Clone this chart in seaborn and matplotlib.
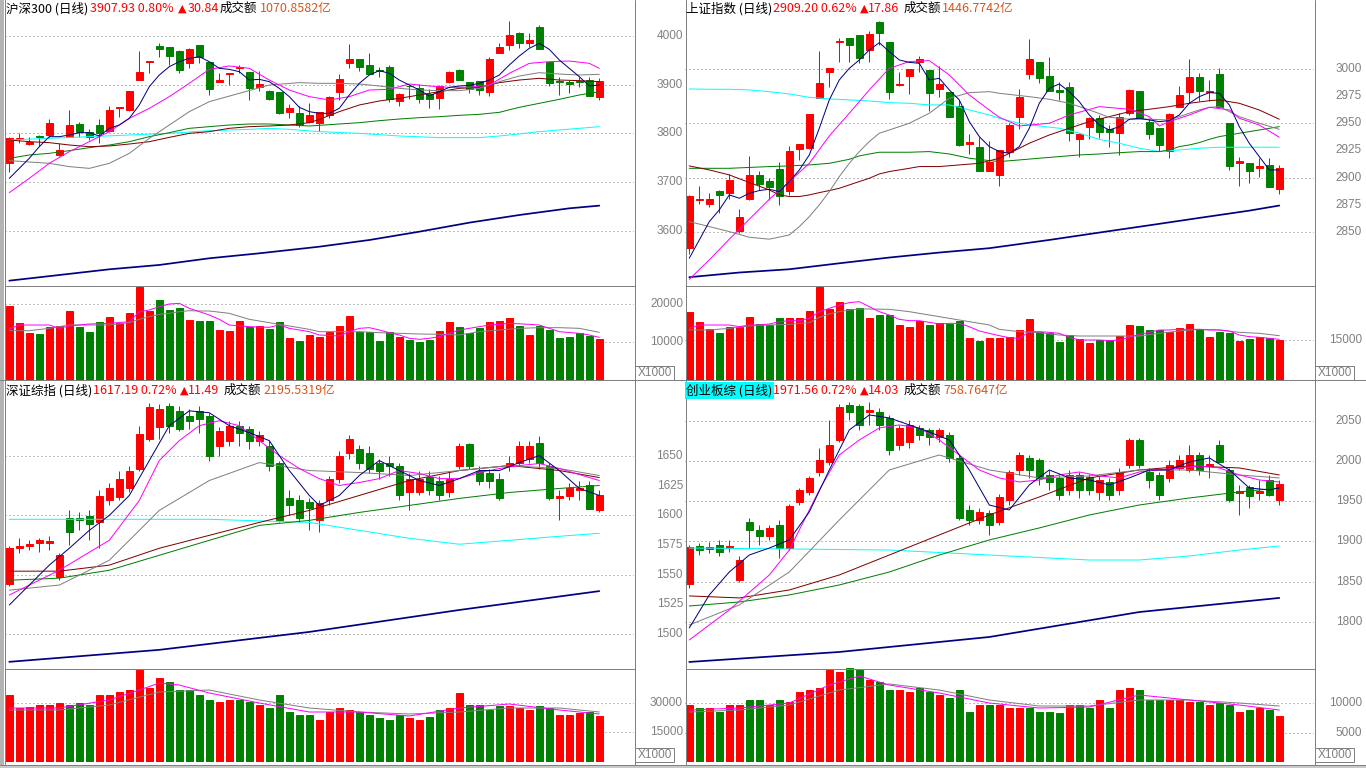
import numpy as np
import matplotlib
matplotlib.use("Agg")
import matplotlib.pyplot as plt
import matplotlib.transforms as mtransforms
from matplotlib.lines import Line2D
from matplotlib.patches import Rectangle
import seaborn as sns

W, H = 1366, 768

# ---------------- 沪深300 ----------------
hs300_open = [3738.8, 3788.7, 3778.4, 3794.2, 3796.9, 3755.9, 3793.5, 3819.5, 3803.8, 3817.4,
              3805.8, 3852.3, 3848.2, 3909.7, 3946.0, 3980.2, 3976.7, 3969.2, 3945.3, 3981.5,
              3947.3, 3904.9, 3922.0, 3933.7, 3926.8, 3896.1, 3887.9, 3884.5, 3844.8, 3841.4,
              3822.9, 3822.2, 3837.9, 3885.8, 3945.3, 3952.8, 3940.5, 3929.6, 3937.1, 3867.4,
              3898.1, 3892.6, 3880.3, 3873.5, 3906.3, 3930.3, 3906.3, 3908.4, 3885.8, 3965.8,
              3981.5, 4006.8, 3986.3, 4019.1, 3947.3, 3907.0, 3906.3, 3907.0, 3909.7, 3875.6]
hs300_high = [3792.1, 3800.3, 3792.1, 3796.9, 3829.7, 3779.8, 3848.2, 3824.3, 3808.5, 3829.7,
              3856.4, 3855.0, 3887.9, 3969.2, 3948.0, 3985.0, 3976.7, 3971.3, 3974.7, 3981.5,
              3947.3, 3923.4, 3924.1, 3940.5, 3926.8, 3928.2, 3889.2, 3885.8, 3859.8, 3856.4,
              3861.9, 3844.8, 3876.9, 3922.0, 3983.6, 3952.8, 3965.8, 3935.7, 3940.5, 3883.8,
              3899.5, 3901.5, 3890.6, 3899.5, 3928.9, 3932.3, 3906.3, 3908.4, 3956.2, 3985.0,
              4030.8, 4008.2, 4005.5, 4022.6, 3947.3, 3915.2, 3909.7, 3915.2, 3915.2, 3913.2]
hs300_low = [3721.7, 3779.8, 3776.4, 3774.4, 3793.5, 3753.9, 3792.1, 3793.5, 3786.7, 3779.8,
             3803.8, 3834.5, 3846.8, 3909.7, 3923.4, 3957.6, 3940.5, 3924.8, 3935.0, 3943.9,
             3879.0, 3904.9, 3899.5, 3923.4, 3868.7, 3887.9, 3868.7, 3840.0, 3831.1, 3814.0,
             3820.9, 3805.8, 3831.1, 3868.7, 3935.0, 3928.9, 3922.0, 3915.2, 3865.3, 3856.4,
             3870.8, 3863.3, 3853.0, 3850.3, 3902.9, 3909.7, 3883.8, 3879.0, 3876.9, 3965.8,
             3971.3, 3974.7, 3978.1, 3972.6, 3897.4, 3879.0, 3883.8, 3894.7, 3876.9, 3868.7]
hs300_close = [3790.1, 3791.5, 3783.2, 3792.8, 3820.9, 3766.2, 3817.4, 3803.8, 3793.5, 3800.3,
               3848.2, 3854.4, 3887.2, 3926.8, 3948.0, 3973.3, 3959.0, 3930.3, 3972.6, 3957.6,
               3891.3, 3909.7, 3923.4, 3935.7, 3892.6, 3901.5, 3870.8, 3841.4, 3853.0, 3817.4,
               3837.9, 3843.4, 3874.2, 3911.8, 3952.8, 3937.1, 3922.0, 3928.2, 3870.1, 3881.0,
               3896.7, 3870.8, 3870.8, 3897.4, 3926.8, 3909.7, 3890.6, 3889.2, 3952.8, 3978.1,
               4002.1, 3986.3, 3991.8, 3973.3, 3904.3, 3905.6, 3900.9, 3905.6, 3876.9, 3907.9]
hs300_vol = [19562, 15088, 12456, 12105, 14035, 14211, 18158, 14035, 12719, 15351,
             16667, 14912, 17719, 24561, 18246, 21053, 18421, 19035, 15790, 15614,
             15614, 13158, 12895, 15614, 14035, 14298, 13421, 15263, 11140, 10351,
             11842, 11404, 12719, 14211, 16842, 12719, 12719, 10351, 12544, 11404,
             10526, 10088, 10526, 12895, 15351, 13860, 12456, 13597, 15351, 15614,
             16404, 14211, 11842, 14211, 13158, 11140, 11404, 12281, 11667, 10790]

hs300_ma5 = [3708.0, 3728.5, 3749.1, 3773.0, 3793.5, 3793.5, 3796.9, 3801.7, 3801.7, 3794.9,
             3810.6, 3817.4, 3831.1, 3858.5, 3896.1, 3920.0, 3937.1, 3947.3, 3954.2, 3957.6,
             3947.3, 3933.7, 3931.6, 3926.8, 3909.7, 3911.1, 3906.3, 3892.6, 3875.6, 3853.7,
             3844.8, 3841.4, 3841.4, 3851.6, 3879.0, 3902.9, 3920.0, 3928.9, 3923.4, 3909.7,
             3899.5, 3889.2, 3876.9, 3885.8, 3894.7, 3897.4, 3898.8, 3902.9, 3909.7, 3920.0,
             3940.5, 3959.0, 3974.7, 3985.0, 3972.6, 3950.8, 3933.7, 3916.6, 3897.4, 3899.5]
hs300_ma10_day = list(range(0, 60, 2)) + [59]
hs300_ma10 = [3678.6, 3708.0, 3738.8, 3762.7, 3783.2, 3803.8, 3831.1, 3851.6, 3875.6, 3903.0,
              3931.6, 3938.5, 3933.7, 3909.7, 3889.2, 3875.6, 3868.7, 3875.6, 3889.2, 3890.6,
              3901.5, 3897.4, 3894.7, 3894.7, 3899.5, 3923.4, 3943.9, 3947.3, 3948.7, 3943.9, 3933.7]
hs300_ma20_day = [0, 4, 6, 8, 10, 12, 14, 16, 18, 20, 23, 26, 29, 31, 33, 35, 37, 39, 41, 43,
                  45, 47, 49, 51, 53, 55, 57, 59]
hs300_ma20 = [3744.3, 3738.8, 3732.0, 3728.5, 3738.8, 3759.3, 3790.1, 3817.4, 3844.8, 3865.3,
              3882.4, 3899.5, 3904.3, 3902.9, 3902.9, 3901.5, 3897.4, 3892.6, 3889.2, 3887.9,
              3887.9, 3892.6, 3906.3, 3917.9, 3924.8, 3922.0, 3920.0, 3921.4]
hs300_ma30_day = list(range(0, 31, 2)) + list(range(31, 60, 2))
hs300_ma30 = [3786.7, 3783.2, 3781.2, 3776.4, 3773.0, 3774.4, 3778.4, 3783.2, 3792.1, 3800.3,
              3803.8, 3810.6, 3814.0, 3815.4, 3817.4, 3822.2, 3829.0, 3844.8, 3858.5, 3866.7,
              3872.1, 3879.0, 3885.8, 3892.6, 3894.7, 3904.3, 3909.7, 3913.2, 3909.7, 3908.4, 3906.3]
hs300_ma60_day = list(range(0, 31, 2)) + list(range(33, 60, 2))
hs300_ma60 = [3749.1, 3755.9, 3759.3, 3764.8, 3770.9, 3776.4, 3783.2, 3793.5, 3801.7, 3810.6,
              3814.0, 3817.4, 3819.5, 3819.5, 3817.4, 3815.4, 3819.5, 3822.2, 3826.3, 3829.7,
              3832.5, 3834.5, 3837.3, 3839.3, 3843.4, 3853.7, 3861.9, 3870.1, 3879.0, 3885.8]
hs300_ma120_day = [0, 4, 8, 12, 16, 20, 24, 26, 28, 31, 35, 39, 43, 47, 49, 51, 53, 55, 57, 59]
hs300_ma120 = [3786.7, 3790.1, 3793.5, 3796.9, 3800.3, 3805.8, 3808.5, 3810.6, 3808.5, 3803.8,
               3800.3, 3794.9, 3791.5, 3791.5, 3794.9, 3799.0, 3803.8, 3807.2, 3810.6, 3814.0]
hs300_ma250_day = [0, 5, 10, 15, 20, 25, 31, 36, 41, 46, 51, 56, 59]
hs300_ma250 = [3498.1, 3509.7, 3521.4, 3530.3, 3544.0, 3554.2, 3567.8, 3581.5, 3598.6, 3617.1,
               3632.8, 3646.5, 3652.0]
hs300_vma5_day = [0, 1, 4, 5, 6, 8, 10, 12, 13, 14, 15, 16, 17, 18, 19, 20, 21, 22, 24, 26,
                  27, 28, 29, 30, 31, 33, 34, 35, 36, 37, 38, 39, 40, 41, 42, 43, 44, 45, 46, 47,
                  48, 49, 50, 52, 53, 54, 55, 57, 58, 59]
hs300_vma5 = [13421, 14474, 14474, 13597, 14211, 14737, 14912, 15351, 17983, 18421,
              19298, 20000, 20176, 18860, 17983, 17105, 15965, 14474, 14035, 13860,
              14474, 13597, 13158, 12719, 11842, 11579, 12719, 13597, 13772, 13158,
              12456, 11842, 10965, 10702, 10965, 11404, 12281, 13158, 13597, 14035,
              14474, 14649, 14912, 14649, 14474, 13597, 12719, 12281, 11842, 11228]
hs300_vma10_day = [0, 2, 4, 6, 8, 10, 12, 13, 14, 15, 16, 17, 18, 19, 20, 22, 24, 26, 28, 30,
                   31, 33, 35, 37, 39, 41, 43, 45, 47, 49, 51, 53, 55, 57, 59]
hs300_vma10 = [12982, 12982, 13597, 14474, 14474, 14474, 15088, 15965, 16667, 17281,
               17544, 17983, 18246, 18158, 18158, 17544, 15965, 15088, 14211, 13333,
               12719, 12719, 12719, 12456, 12281, 12105, 12018, 11842, 12719, 13158,
               13597, 13772, 13772, 13597, 12544]

# ---------------- 上证指数 ----------------
sh_open = [2834.9, 2879.4, 2875.7, 2888.0, 2886.1, 2851.1, 2880.3, 2902.4, 2897.2, 2907.6,
           2888.0, 2926.3, 2927.6, 2973.6, 2997.5, 3025.2, 3028.2, 3031.3, 3017.5, 3043.0,
           3024.6, 2985.3, 2993.9, 3006.1, 2999.1, 2981.3, 2979.1, 2965.9, 2930.9, 2928.5,
           2906.4, 2902.4, 2923.9, 2956.1, 2995.4, 3006.8, 2993.6, 2980.7, 2983.1, 2935.2,
           2946.9, 2954.6, 2944.4, 2941.4, 2959.8, 2979.8, 2950.9, 2946.0, 2924.5, 2965.3,
           2979.1, 2992.3, 2978.8, 2995.4, 2950.6, 2913.7, 2913.7, 2908.5, 2911.6, 2889.5]
sh_high = [2884.0, 2892.3, 2886.1, 2888.6, 2903.3, 2870.8, 2919.9, 2906.4, 2899.3, 2914.7,
           2929.1, 2930.9, 2958.6, 3016.6, 3000.6, 3028.2, 3028.2, 3031.3, 3035.0, 3044.2,
           3024.6, 2997.5, 3000.0, 3012.0, 2999.1, 3003.1, 2979.1, 2971.5, 2940.2, 2937.7,
           2933.7, 2925.4, 2950.6, 2981.3, 3027.3, 3006.8, 3010.7, 2987.7, 2988.3, 2941.4,
           2956.1, 2957.6, 2948.4, 2959.2, 2981.3, 2979.8, 2954.6, 2946.0, 2959.8, 2984.4,
           3008.9, 2996.6, 2989.9, 3000.6, 2950.6, 2919.3, 2913.7, 2917.8, 2917.8, 2911.6]
sh_low = [2829.7, 2875.7, 2873.2, 2867.7, 2880.0, 2849.3, 2879.4, 2888.6, 2879.4, 2874.8,
          2884.0, 2916.2, 2926.0, 2973.6, 2983.1, 3006.8, 3006.8, 3005.8, 3006.8, 3022.1,
          2972.1, 2984.3, 2977.0, 2997.5, 2961.6, 2974.5, 2956.1, 2929.1, 2921.7, 2906.4,
          2906.4, 2892.6, 2919.3, 2944.4, 2990.8, 2987.4, 2980.1, 2971.5, 2934.0, 2918.7,
          2935.2, 2936.2, 2927.9, 2920.8, 2957.6, 2954.6, 2935.5, 2924.8, 2918.4, 2965.3,
          2969.0, 2970.8, 2970.8, 2965.3, 2907.0, 2892.6, 2894.7, 2900.3, 2891.7, 2884.9]
sh_close = [2883.1, 2880.3, 2880.3, 2884.0, 2897.8, 2863.4, 2902.4, 2894.1, 2891.7, 2883.1,
            2924.5, 2930.9, 2958.6, 2987.1, 3000.6, 3026.1, 3022.1, 3010.4, 3031.9, 3032.9,
            2979.1, 2986.2, 3000.0, 3008.9, 2978.2, 2986.2, 2956.1, 2930.0, 2933.1, 2906.4,
            2914.7, 2925.4, 2948.4, 2974.5, 3008.9, 2992.0, 2980.1, 2978.8, 2941.4, 2940.2,
            2955.2, 2942.3, 2942.3, 2956.1, 2980.7, 2954.6, 2940.2, 2930.0, 2958.6, 2976.1,
            2992.3, 2980.1, 2980.1, 2965.3, 2911.0, 2915.3, 2906.4, 2910.7, 2891.7, 2909.2]
sh_vol = [25625, 21875, 19000, 17750, 20000, 19750, 23750, 21000, 20625, 23375,
          23375, 23375, 26000, 35000, 26625, 29375, 26500, 27125, 23375, 24375,
          24375, 20625, 20000, 22250, 20625, 21250, 20875, 22125, 15875, 14750,
          15875, 15875, 16000, 18750, 22875, 18125, 17500, 14375, 16875, 15250,
          13750, 15000, 15000, 16500, 20625, 20250, 18750, 18750, 18125, 19375,
          21000, 18750, 16250, 18125, 17500, 14750, 15375, 16000, 15625, 15000]

sh_ma5 = [2825.7, 2842.5, 2859.4, 2870.2, 2884.0, 2880.9, 2885.5, 2888.0, 2889.2, 2887.0,
          2896.3, 2907.0, 2920.8, 2945.4, 2971.5, 2989.9, 3000.6, 3008.3, 3017.5, 3024.2,
          3016.0, 3008.3, 3006.1, 3005.2, 2989.9, 2991.4, 2980.7, 2971.5, 2951.5, 2937.7,
          2928.5, 2923.9, 2922.3, 2928.5, 2945.4, 2968.4, 2982.2, 2986.2, 2979.1, 2969.9,
          2957.6, 2948.4, 2943.8, 2946.9, 2953.7, 2954.6, 2953.0, 2951.5, 2952.4, 2957.6,
          2968.4, 2974.5, 2978.2, 2977.6, 2966.9, 2946.9, 2931.5, 2919.3, 2907.0, 2907.0]
sh_ma10_day = list(range(0, 31, 2)) + [31, 33, 36, 38, 41, 44, 46, 47, 48, 50, 52, 54, 55, 57, 59]
sh_ma10 = [2806.3, 2824.1, 2843.2, 2861.6, 2880.0, 2896.3, 2913.1, 2938.3, 2959.2, 2980.7,
           3000.6, 3006.8, 3007.7, 2994.5, 2976.1, 2962.2, 2955.5, 2947.5, 2950.0, 2957.6,
           2965.3, 2962.9, 2956.1, 2947.5, 2951.5, 2957.6, 2964.7, 2962.3, 2954.6, 2948.4, 2937.1]
sh_ma20_day = [0, 2, 4, 6, 8, 10, 11, 12, 13, 14, 15, 16, 17, 18, 19, 20, 22, 24, 26, 28,
               30, 31, 34, 36, 38, 40, 42, 44, 46, 48, 49, 50, 51, 52, 53, 54, 55, 57, 59]
sh_ma20 = [2859.4, 2854.8, 2850.2, 2845.0, 2843.2, 2847.1, 2854.8, 2864.0, 2874.8, 2887.0,
           2900.9, 2913.1, 2923.9, 2933.1, 2940.8, 2943.8, 2950.0, 2959.2, 2973.0, 2978.2,
           2979.1, 2977.6, 2974.5, 2972.1, 2968.4, 2962.3, 2955.5, 2953.7, 2953.7, 2953.0,
           2956.1, 2959.2, 2962.3, 2964.7, 2965.3, 2960.7, 2956.1, 2950.0, 2944.4]
sh_ma30_day = [0, 2, 4, 6, 8, 9, 10, 11, 12, 13, 14, 15, 16, 17, 18, 19, 20, 21, 22, 23,
               25, 27, 29, 31, 32, 34, 36, 38, 40, 42, 44, 46, 48, 50, 52, 53, 54, 55, 57, 59]
sh_ma30 = [2910.7, 2907.0, 2902.4, 2895.4, 2888.6, 2884.0, 2882.5, 2882.5, 2884.0, 2886.1,
           2888.0, 2890.1, 2893.2, 2896.3, 2899.3, 2903.3, 2905.5, 2907.0, 2908.5, 2910.1,
           2910.1, 2911.6, 2913.1, 2917.8, 2922.3, 2931.6, 2939.2, 2945.4, 2951.5, 2956.1,
           2960.7, 2962.9, 2965.3, 2968.4, 2970.8, 2971.5, 2969.9, 2968.4, 2962.2, 2953.7]
sh_ma60_day = [0, 4, 8, 10, 12, 14, 16, 17, 18, 19, 20, 22, 24, 26, 28, 30, 31, 33, 35, 37,
               39, 41, 43, 45, 47, 48, 49, 50, 51, 52, 53, 54, 55, 57, 59]
sh_ma60 = [2908.5, 2908.5, 2910.1, 2910.7, 2911.6, 2913.1, 2916.8, 2919.9, 2921.7, 2923.3,
           2923.3, 2923.3, 2923.9, 2921.7, 2917.8, 2915.6, 2914.7, 2916.2, 2917.8, 2919.3,
           2920.8, 2921.7, 2922.9, 2923.9, 2923.9, 2925.4, 2928.5, 2930.0, 2932.2, 2935.2,
           2937.7, 2939.2, 2940.8, 2943.8, 2946.9]
sh_ma120_day = list(range(0, 27, 2)) + [27, 28, 30, 31] + list(range(33, 56, 2)) + [59]
sh_ma120 = [2981.6, 2981.3, 2981.3, 2980.7, 2979.1, 2977.0, 2973.9, 2972.4, 2971.5, 2970.5,
            2969.0, 2968.4, 2966.9, 2966.9, 2964.7, 2962.3, 2957.6, 2954.6, 2949.9, 2947.5,
            2945.4, 2940.8, 2935.2, 2931.6, 2927.0, 2923.9, 2925.4, 2927.0, 2927.9, 2927.9, 2927.9]
sh_ma250_day = [0, 5, 10, 15, 20, 25, 30, 36, 41, 46, 51, 56, 59]
sh_ma250 = [2808.2, 2812.5, 2815.5, 2821.0, 2826.3, 2830.9, 2834.9, 2842.5, 2849.3, 2856.0,
            2862.8, 2869.5, 2874.2]
sh_vma5_day = [0, 1] + list(range(4, 60))
sh_vma5 = [19375, 20625, 20625, 20000, 20625, 20625, 21000, 21875, 22250, 22250,
           23125, 25625, 26875, 28125, 29000, 29375, 27500, 25625, 24375, 22750,
           22250, 22250, 21625, 21000, 21250, 21250, 20000, 18375, 17500, 16625,
           15875, 15625, 18125, 18125, 17875, 17500, 16000, 15000, 15000, 15000,
           14750, 15000, 16000, 17125, 17875, 18750, 18750, 19000, 19000, 19000,
           18750, 18750, 18375, 16875, 16250, 16000, 15625, 15250]
sh_vma10_day = [0, 2, 4, 6, 8, 10, 12, 13, 14, 15, 16, 17, 18, 20, 22, 24, 26, 28, 30, 31,
                33, 35, 37, 39, 41, 43, 45, 47, 49, 51, 53, 55, 57, 59]
sh_vma10 = [18750, 18750, 19375, 20250, 20625, 20875, 21500, 23500, 24750, 25625,
            26250, 26625, 26625, 26500, 25625, 24375, 23125, 21875, 20625, 19000,
            18125, 17750, 16875, 16500, 16500, 16500, 16500, 17500, 18375, 19000,
            18750, 17875, 17500, 16625]

# ---------------- 深证综指 ----------------
sz_open = [1542.0, 1572.2, 1573.9, 1576.4, 1576.4, 1547.9, 1597.4, 1597.4, 1599.1, 1594.0,
           1612.5, 1615.0, 1622.6, 1639.4, 1664.5, 1674.6, 1692.2, 1688.0, 1683.9, 1688.0,
           1683.9, 1658.7, 1662.9, 1675.5, 1672.9, 1662.9, 1658.7, 1644.4, 1614.2, 1612.5,
           1610.8, 1595.7, 1612.5, 1630.9, 1652.8, 1656.2, 1652.8, 1644.4, 1644.4, 1641.9,
           1619.2, 1619.2, 1632.6, 1629.3, 1619.2, 1641.9, 1660.4, 1637.7, 1636.0, 1630.9,
           1641.9, 1644.4, 1647.8, 1661.2, 1641.9, 1614.2, 1615.9, 1620.9, 1625.1, 1604.1]
sz_high = [1573.9, 1580.6, 1578.9, 1580.6, 1582.3, 1568.0, 1604.1, 1602.4, 1604.1, 1620.9,
           1627.6, 1637.7, 1641.9, 1675.5, 1694.8, 1693.9, 1694.8, 1692.2, 1689.7, 1692.2,
           1686.4, 1674.6, 1679.7, 1679.7, 1675.5, 1671.3, 1662.9, 1646.1, 1620.9, 1616.7,
           1614.2, 1612.5, 1633.5, 1654.5, 1667.9, 1659.5, 1658.7, 1647.8, 1650.3, 1644.4,
           1636.0, 1637.7, 1637.7, 1633.5, 1637.7, 1661.2, 1661.2, 1641.9, 1639.4, 1636.0,
           1650.3, 1662.9, 1662.9, 1667.1, 1644.4, 1620.9, 1627.6, 1629.3, 1629.3, 1620.9]
sz_low = [1540.3, 1568.0, 1570.5, 1568.8, 1570.5, 1545.3, 1574.7, 1587.3, 1578.9, 1572.2,
          1608.3, 1612.5, 1619.2, 1637.7, 1662.9, 1664.5, 1669.6, 1671.3, 1672.9, 1669.6,
          1646.1, 1650.3, 1658.7, 1658.7, 1656.2, 1658.7, 1637.7, 1594.0, 1599.9, 1594.0,
          1587.3, 1585.6, 1608.3, 1627.6, 1647.8, 1639.4, 1636.0, 1630.9, 1633.5, 1612.5,
          1604.1, 1616.7, 1616.7, 1612.5, 1615.0, 1639.4, 1639.4, 1625.1, 1622.6, 1612.5,
          1637.7, 1641.9, 1644.4, 1639.4, 1612.5, 1595.7, 1612.5, 1612.5, 1605.7, 1602.4]
sz_close = [1572.2, 1573.9, 1575.6, 1578.9, 1578.1, 1566.3, 1585.6, 1595.7, 1592.4, 1615.9,
            1622.6, 1630.9, 1637.7, 1668.7, 1691.4, 1689.7, 1675.5, 1672.9, 1679.7, 1681.3,
            1650.3, 1671.3, 1675.5, 1669.6, 1662.9, 1667.9, 1641.9, 1595.7, 1608.3, 1597.4,
            1605.8, 1610.0, 1630.9, 1650.3, 1664.5, 1644.4, 1639.4, 1637.7, 1641.9, 1616.7,
            1630.9, 1630.9, 1620.9, 1616.7, 1630.9, 1658.7, 1641.9, 1629.3, 1629.3, 1614.2,
            1644.4, 1658.7, 1658.7, 1644.4, 1614.2, 1615.9, 1623.4, 1623.4, 1605.7, 1617.2]
sz_vol = [33956, 27367, 27874, 28888, 28888, 29901, 28888, 29901, 28888, 33956,
          33956, 35476, 36490, 46626, 37503, 42571, 40544, 36490, 36490, 33956,
          31422, 30408, 31422, 31422, 30408, 28888, 27367, 33956, 25340, 23820,
          23820, 21286, 25340, 27367, 26354, 25340, 23820, 22299, 21286, 23820,
          22299, 21286, 22806, 26354, 27367, 34969, 28888, 28888, 26354, 28381,
          28381, 27367, 26354, 28381, 27367, 23820, 23820, 24833, 25340, 23313]

sz_ma5_day = list(range(0, 31, 2)) + list(range(31, 60, 2))
sz_ma5 = [1524.4, 1541.2, 1558.0, 1572.2, 1587.3, 1599.9, 1616.7, 1646.1, 1675.5, 1688.0,
          1686.4, 1675.5, 1669.6, 1662.9, 1637.7, 1616.7, 1608.3, 1616.7, 1633.5, 1646.1,
          1637.7, 1629.3, 1625.1, 1630.9, 1637.7, 1637.7, 1644.4, 1650.3, 1637.7, 1622.6, 1616.7]
sz_ma10_day = [0, 5, 10, 13, 15, 17, 19, 21, 23, 25, 27, 29, 31, 33, 35, 37, 39, 41, 43, 45,
               47, 49, 51, 53, 55, 57, 59]
sz_ma10 = [1532.8, 1553.7, 1578.9, 1612.5, 1646.1, 1662.9, 1675.5, 1679.7, 1675.5, 1662.9,
           1650.3, 1639.4, 1630.9, 1625.1, 1627.6, 1630.9, 1637.7, 1635.2, 1630.9, 1630.9,
           1636.0, 1639.4, 1641.9, 1643.6, 1639.4, 1634.3, 1629.3]
sz_ma_day = [0, 5, 10, 15, 20, 25, 30, 35, 40, 45, 50, 55, 59]
sz_ma20 = [1536.9, 1541.2, 1562.1, 1604.1, 1629.3, 1644.4, 1637.7, 1636.0, 1633.5, 1637.7,
           1641.9, 1639.4, 1633.5]
sz_ma30 = [1552.9, 1552.9, 1558.0, 1572.2, 1583.1, 1594.0, 1604.1, 1616.7, 1629.3, 1637.7,
           1641.9, 1637.7, 1631.8]
sz_ma60 = [1545.3, 1547.0, 1553.7, 1566.3, 1578.9, 1591.5, 1595.7, 1602.4, 1608.3, 1614.2,
           1619.2, 1622.6, 1625.1]
sz_ma120_day = [0, 10, 20, 30, 35, 40, 45, 50, 55, 59]
sz_ma120 = [1596.6, 1596.6, 1596.6, 1594.0, 1587.3, 1580.6, 1575.6, 1578.9, 1582.3, 1584.8]
sz_ma250_day = [0, 15, 30, 45, 59]
sz_ma250 = [1476.5, 1486.6, 1501.7, 1520.2, 1536.1]
sz_vma5_day = [0, 5, 10, 13, 15, 17, 20, 25, 30, 35, 40, 45, 50, 55, 59]
sz_vma5 = [27367, 27367, 31422, 36490, 40037, 39024, 34969, 29901, 25340, 25340,
           23313, 27367, 29394, 26354, 24326]
sz_vma10_day = [0, 5, 10, 15, 20, 25, 30, 35, 40, 45, 50, 55, 59]
sz_vma10 = [26354, 26354, 28888, 35476, 36490, 31422, 27367, 25340, 24326, 25340,
            27367, 27367, 25340]

# ---------------- 创业板综 ----------------
cyb_open = [1847.2, 1894.4, 1890.7, 1895.7, 1891.9, 1852.2, 1924.2, 1914.3, 1906.8, 1920.5,
            1891.9, 1949.1, 1961.5, 1986.3, 1998.7, 2026.0, 2069.5, 2068.3, 2060.8, 2060.8,
            2053.4, 2019.9, 2023.6, 2041.0, 2038.5, 2029.8, 2032.3, 2003.7, 1939.1, 1926.7,
            1935.4, 1924.2, 1951.5, 1988.8, 2003.7, 2001.2, 1982.6, 1978.9, 1964.0, 1982.6,
            1980.1, 1961.5, 1973.9, 1964.0, 1995.0, 2026.0, 1986.3, 1982.6, 1978.9, 1991.3,
            1988.8, 2007.4, 1993.8, 2019.9, 1988.8, 1960.3, 1967.7, 1960.3, 1976.4, 1951.5]
cyb_high = [1895.7, 1898.2, 1899.4, 1901.9, 1901.9, 1882.0, 1929.2, 1920.5, 1920.5, 1926.7,
            1946.6, 1966.5, 1981.4, 2016.1, 2050.9, 2070.8, 2073.3, 2070.8, 2073.3, 2065.8,
            2057.1, 2044.7, 2050.9, 2044.7, 2041.0, 2041.0, 2036.0, 2007.4, 1945.3, 1941.6,
            1939.1, 1959.0, 1988.8, 2011.2, 2007.4, 2003.7, 1988.8, 1982.6, 1988.8, 1986.3,
            1983.8, 1981.4, 1978.9, 1991.3, 2028.6, 2028.6, 1991.3, 1986.3, 2001.2, 2007.4,
            2019.9, 2011.2, 2007.4, 2026.0, 1991.3, 1970.2, 1970.2, 1976.4, 1982.6, 1976.4]
cyb_low = [1842.3, 1883.2, 1885.7, 1882.0, 1887.0, 1849.7, 1891.9, 1895.7, 1901.9, 1879.5,
           1889.5, 1945.3, 1957.8, 1981.4, 1995.0, 2023.6, 2050.9, 2038.5, 2044.7, 2038.5,
           2007.4, 2013.6, 2016.1, 2026.0, 2019.9, 2023.6, 1998.7, 1926.7, 1920.5, 1921.7,
           1908.1, 1920.5, 1945.3, 1982.6, 1978.9, 1970.2, 1964.0, 1951.5, 1957.8, 1954.0,
           1957.8, 1951.5, 1951.5, 1957.8, 1991.3, 1991.3, 1966.5, 1951.5, 1973.9, 1988.8,
           1986.3, 1982.6, 1978.9, 1998.7, 1949.1, 1932.9, 1941.6, 1951.5, 1956.0, 1945.3]
cyb_close = [1893.2, 1889.5, 1893.2, 1887.0, 1894.4, 1877.0, 1914.3, 1906.8, 1916.8, 1891.9,
             1944.1, 1964.0, 1978.9, 2001.2, 2019.9, 2067.0, 2060.8, 2044.7, 2063.3, 2044.7,
             2013.6, 2041.0, 2044.7, 2032.3, 2029.8, 2038.5, 2003.7, 1929.2, 1926.7, 1936.6,
             1920.5, 1955.3, 1986.3, 2007.4, 1988.8, 1978.9, 1973.9, 1957.8, 1982.6, 1964.0,
             1964.0, 1976.4, 1957.8, 1986.3, 2026.0, 1995.0, 1976.4, 1957.8, 1995.0, 2001.2,
             2007.4, 1988.8, 1996.3, 1998.7, 1951.5, 1962.7, 1956.5, 1962.7, 1957.5, 1971.6]
cyb_vol = [9724, 9212, 9212, 8530, 9724, 9724, 10577, 10577, 9724, 10577,
           10236, 11942, 12283, 12624, 15695, 15354, 16036, 15695, 13989, 13648,
           12283, 12283, 11942, 12624, 11942, 11430, 10918, 12283, 8530, 9724,
           9724, 9724, 9212, 9212, 9212, 8530, 8530, 8359, 9724, 9724,
           9212, 10577, 9212, 12283, 12624, 12283, 10577, 10577, 10577, 10577,
           10236, 10236, 9724, 10065, 9724, 8530, 8871, 9212, 8871, 7848]

cyb_ma5_day = list(range(0, 60, 2)) + [59]
cyb_ma5 = [1792.6, 1833.6, 1862.1, 1883.2, 1891.9, 1901.9, 1936.7, 1988.8, 2038.5, 2057.1,
           2053.4, 2044.7, 2036.0, 2026.0, 1988.8, 1945.3, 1939.1, 1970.2, 1988.8, 1978.9,
           1976.4, 1970.2, 1978.9, 1988.8, 1988.8, 1998.7, 2003.7, 1988.8, 1966.5, 1964.0, 1966.5]
cyb_ma10_day = [0, 4, 8, 10, 13, 15, 17, 19, 21, 23, 25, 27, 29, 31, 33, 35, 37, 39, 41, 43,
                45, 47, 49, 51, 53, 55, 57, 59]
cyb_ma10 = [1777.7, 1815.0, 1858.4, 1889.4, 1964.0, 2007.4, 2026.0, 2041.0, 2044.7, 2041.0,
            2026.0, 2007.4, 1988.8, 1978.9, 1973.9, 1976.4, 1982.6, 1986.3, 1981.4, 1978.9,
            1986.3, 1988.8, 1991.3, 1993.8, 1991.3, 1982.6, 1976.4, 1973.9]
cyb_ma_day = [0, 5, 10, 15, 20, 25, 30, 35, 40, 45, 50, 55, 59]
cyb_ma20 = [1796.3, 1821.2, 1862.1, 1926.7, 1988.8, 2007.4, 1988.8, 1978.9, 1981.4, 1988.8,
            1988.8, 1982.6, 1978.9]
cyb_ma30 = [1832.4, 1829.9, 1839.8, 1858.4, 1883.2, 1908.1, 1932.9, 1955.3, 1978.9, 1988.8,
            1993.8, 1991.3, 1982.6]
cyb_ma60 = [1819.9, 1824.9, 1833.6, 1846.0, 1862.1, 1883.2, 1901.9, 1916.8, 1932.9, 1945.3,
            1954.0, 1961.5, 1966.5]
cyb_ma120_day = [0, 10, 20, 30, 40, 45, 50, 55, 59]
cyb_ma120 = [1891.9, 1890.7, 1889.4, 1883.2, 1877.0, 1877.0, 1882.0, 1889.4, 1894.4]
cyb_ma250_day = [0, 15, 30, 45, 59]
cyb_ma250 = [1750.4, 1762.8, 1781.4, 1812.4, 1829.9]
cyb_vma5_day = [0, 5, 10, 14, 17, 20, 25, 30, 35, 40, 45, 50, 55, 59]
cyb_vma5 = [8871, 9212, 10065, 13136, 14672, 13136, 11771, 10065, 9212, 9383,
            11430, 10577, 9724, 8871]
cyb_vma10_day = [0, 5, 10, 15, 20, 25, 30, 35, 40, 45, 50, 55, 59]
cyb_vma10 = [8530, 8871, 9724, 12283, 13307, 12283, 10577, 9554, 9554, 10577,
             10577, 10065, 9554]

RED = "#FF0000"
GREEN = "#008000"
GRAY = "#808080"
ORANGE = "#D8561A"
NAVY = "#000080"
MAGENTA = "#FF00FF"
DARKRED = "#800000"
CYAN = "#00FFFF"
PX = 0.72  # one pixel in points
THICK = 1.25

sns.set_style("white")
plt.rcParams["font.family"] = ["Liberation Sans", "Noto Sans CJK SC", "DejaVu Sans"]

fig = plt.figure(figsize=(W / 100, H / 100), dpi=100)
fig.patch.set_facecolor("white")


def px_axes(x, y, w, h):
    ax = fig.add_axes([x / W, 1 - (y + h) / H, w / W, h / H])
    ax.set_facecolor("none")
    for s in ax.spines.values():
        s.set_visible(False)
    ax.set_xticks([])
    ax.set_yticks([])
    ax.set_xlim(-0.43, 62.47)
    return ax


def fig_line(x0, y0, x1, y1, color=GRAY, lw=PX):
    fig.add_artist(Line2D([x0 / W, x1 / W], [1 - y0 / H, 1 - y1 / H],
                          transform=fig.transFigure, color=color, lw=lw))


def side_labels(ax, vals, off_px):
    trans = mtransforms.blended_transform_factory(ax.transAxes, ax.transData)
    for v in vals:
        ax.text(1 + off_px / 629, v, str(v), transform=trans, ha="right", va="center",
                color=GRAY, fontsize=8.5, clip_on=False)


def dotted(ax, vals):
    ax.hlines(vals, -0.43, 62.47, colors=GRAY, linestyles=(0, (1, 3)), lw=PX, zorder=1)


def ma_line(ax, days, vals, color, lw=PX):
    sns.lineplot(x=days, y=vals, ax=ax, color=color, linewidth=lw, estimator=None,
                 sort=False, legend=False, zorder=5)


ALL = list(range(60))
panels = [
    dict(box=(5, 0, 629, 285, 95), ylim=(3489.2, 4073.85),
         labels=[4000, 3900, 3800, 3700, 3600], grid=[4000, 3900, 3800, 3700, 3600],
         vylim=(0, 25000), vlabels=[20000, 10000], off=49, ty=8.5,
         ohlcv=(hs300_open, hs300_high, hs300_low, hs300_close, hs300_vol),
         mas=[(hs300_ma250_day, hs300_ma250, NAVY, THICK),
              (hs300_ma120_day, hs300_ma120, CYAN, PX), (hs300_ma60_day, hs300_ma60, GREEN, PX),
              (hs300_ma30_day, hs300_ma30, DARKRED, PX), (hs300_ma20_day, hs300_ma20, GRAY, PX),
              (hs300_ma10_day, hs300_ma10, MAGENTA, PX), (ALL, hs300_ma5, NAVY, PX)],
         vmas=[(hs300_vma10_day, hs300_vma10, GRAY), (hs300_vma5_day, hs300_vma5, MAGENTA)],
         title=[("沪深300 (日线)", 6, "black"), ("3907.93 0.80%", 90, RED), ("▲", 178, RED),
                ("30.84", 188, RED), ("成交额", 220, "black"), ("1070.8582亿", 260, ORANGE)]),
    dict(box=(685, 0, 629, 285, 95), ylim=(2801.0, 3063.54),
         labels=[3000, 2975, 2950, 2925, 2900, 2875, 2850], grid=[3000, 2950, 2900, 2850],
         vylim=(0, 35625), vlabels=[15000], off=48, ty=8.5,
         ohlcv=(sh_open, sh_high, sh_low, sh_close, sh_vol),
         mas=[(sh_ma250_day, sh_ma250, NAVY, THICK),
              (sh_ma120_day, sh_ma120, CYAN, PX), (sh_ma60_day, sh_ma60, GREEN, PX),
              (sh_ma30_day, sh_ma30, DARKRED, PX), (sh_ma20_day, sh_ma20, GRAY, PX),
              (sh_ma10_day, sh_ma10, MAGENTA, PX), (ALL, sh_ma5, NAVY, PX)],
         vmas=[(sh_vma10_day, sh_vma10, GRAY), (sh_vma5_day, sh_vma5, MAGENTA)],
         title=[("上证指数 (日线)", 686, "black"), ("2909.20 0.62%", 773, RED), ("▲", 860, RED),
                ("17.86", 868, RED), ("成交额", 904, "black"), ("1446.7742亿", 942, ORANGE)]),
    dict(box=(5, 380, 629, 288, 94), ylim=(1471.3, 1714.0),
         labels=[1650, 1625, 1600, 1575, 1550, 1525, 1500], grid=[1650, 1600, 1550, 1500],
         vylim=(0, 47640), vlabels=[30000, 15000], off=49, ty=390.5,
         ohlcv=(sz_open, sz_high, sz_low, sz_close, sz_vol),
         mas=[(sz_ma250_day, sz_ma250, NAVY, THICK),
              (sz_ma120_day, sz_ma120, CYAN, PX), (sz_ma_day, sz_ma60, GREEN, PX),
              (sz_ma_day, sz_ma30, DARKRED, PX), (sz_ma_day, sz_ma20, GRAY, PX),
              (sz_ma10_day, sz_ma10, MAGENTA, PX), (sz_ma5_day, sz_ma5, NAVY, PX)],
         vmas=[(sz_vma10_day, sz_vma10, GRAY), (sz_vma5_day, sz_vma5, MAGENTA)],
         title=[("深证综指 (日线)", 6, "black"), ("1617.19 0.72%", 93, RED), ("▲", 180, RED),
                ("11.49", 188, RED), ("成交额", 224, "black"), ("2195.5319亿", 263, ORANGE)]),
    dict(box=(685, 380, 629, 288, 94), ylim=(1742.9, 2100.5),
         labels=[2050, 2000, 1950, 1900, 1850, 1800], grid=[2050, 2000, 1950, 1900, 1850, 1800],
         vylim=(0, 16040), vlabels=[10000, 5000], off=48, ty=390.5,
         ohlcv=(cyb_open, cyb_high, cyb_low, cyb_close, cyb_vol),
         mas=[(cyb_ma250_day, cyb_ma250, NAVY, THICK),
              (cyb_ma120_day, cyb_ma120, CYAN, PX), (cyb_ma_day, cyb_ma60, GREEN, PX),
              (cyb_ma_day, cyb_ma30, DARKRED, PX), (cyb_ma_day, cyb_ma20, GRAY, PX),
              (cyb_ma10_day, cyb_ma10, MAGENTA, PX), (cyb_ma5_day, cyb_ma5, NAVY, PX)],
         vmas=[(cyb_vma10_day, cyb_vma10, GRAY), (cyb_vma5_day, cyb_vma5, MAGENTA)],
         title=[("创业板综 (日线)", 686, "black"), ("1971.56 0.72%", 773, RED), ("▲", 860, RED),
                ("14.03", 868, RED), ("成交额", 904, "black"), ("758.7647亿", 943, ORANGE)],
         hl=True),
]

for p in panels:
    x, y, w, hp, hv = p["box"]
    axp = px_axes(x, y, w, hp)
    axv = px_axes(x, y + hp, w, hv)
    axp.set_ylim(*p["ylim"])
    axv.set_ylim(*p["vylim"])
    dotted(axp, p["grid"])
    dotted(axv, p["vlabels"])
    side_labels(axp, p["labels"], p["off"])
    side_labels(axv, p["vlabels"], p["off"])

    o, hi, lo, c, v = [np.asarray(a, dtype=float) for a in p["ohlcv"]]
    days = np.arange(len(o))
    col = np.where(c >= o, RED, GREEN)
    axp.vlines(days, lo, hi, colors=col, lw=PX, zorder=2)
    axp.bar(days, np.abs(c - o), bottom=np.minimum(o, c), width=0.66, color=col,
            edgecolor=col, lw=0.7, zorder=3)
    axv.bar(days, v, width=0.66, color=col, edgecolor=col, lw=0.7, zorder=3)
    for d, vals, colr, lw in p["mas"]:
        ma_line(axp, d, vals, colr, lw)
    for d, vals, colr in p["vmas"]:
        ma_line(axv, d, vals, colr)
    axp.set_ylim(*p["ylim"])
    axv.set_ylim(*p["vylim"])
    axp.set_xlim(-0.43, 62.47)
    axv.set_xlim(-0.43, 62.47)

    for i, (txt, tx, tc) in enumerate(p["title"]):
        kw = {}
        if i == 0 and p.get("hl"):
            kw["bbox"] = dict(facecolor=CYAN, edgecolor="none", pad=1.0)
        fam = ["DejaVu Sans"] if txt == "▲" else ["Noto Sans CJK SC", "DejaVu Sans"]
        fs = 8 if txt == "▲" else 9
        fig.text(tx / W, 1 - p["ty"] / H, txt, color=tc, fontsize=fs, ha="left", va="center",
                 family=fam, **kw)

    # X1000 box
    bx = x + w + 1
    by = y + hp + hv
    fig.add_artist(Rectangle((bx / W, 1 - by / H), 39 / W, 14 / H, transform=fig.transFigure,
                             fill=False, edgecolor=GRAY, lw=PX))
    fig.text((bx + 19.5) / W, 1 - (by - 7) / H, "X1000", color=GRAY, fontsize=8.5,
             ha="center", va="center")

# frame lines
fig.add_artist(Rectangle((0, 1 - 765 / H), 4 / W, 765 / H, transform=fig.transFigure,
                         facecolor="#B4B4B4", edgecolor="none"))
fig.add_artist(Rectangle((0, 0), 1, 3 / H, transform=fig.transFigure,
                         facecolor="#C8C8C8", edgecolor="none"))
for xv in (4.5, 634.5, 685.5, 1314.5):
    fig_line(xv, 0, xv, 765)
for y0 in (285.5, 668.5):
    fig_line(5, y0, 634.5, y0)
    fig_line(685.5, y0, 1314.5, y0)
fig_line(0, 380.5, W, 380.5)
fig_line(0, 765, W, 765)

fig.savefig("out.png", dpi=100, facecolor="white")
